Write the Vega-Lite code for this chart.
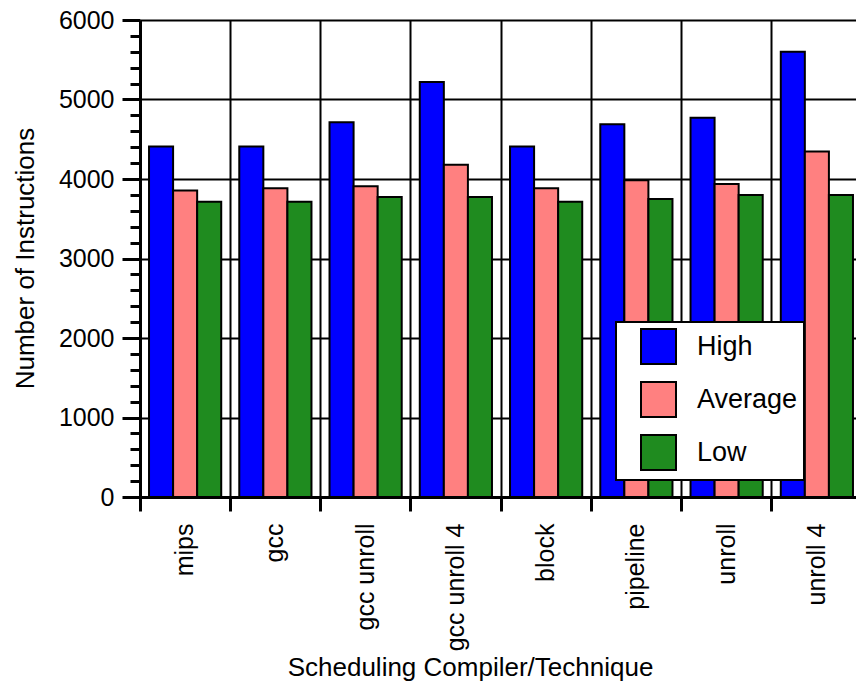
{
  "$schema": "https://vega.github.io/schema/vega-lite/v6.json",
  "autosize": {"type": "none"},
  "width": 722,
  "height": 477,
  "padding": {"left": 140, "top": 20, "right": -6, "bottom": 192},
  "background": "white",
  "config": {
    "view": {"stroke": null},
    "font": "Liberation Sans",
    "axis": {
      "domainColor": "black",
      "tickColor": "black",
      "gridColor": "black",
      "gridOpacity": 1,
      "labelColor": "black",
      "titleColor": "black",
      "labelFont": "Liberation Sans",
      "titleFont": "Liberation Sans",
      "titleFontWeight": "normal"
    }
  },
  "data": {
    "values": [
      {"technique": "mips", "level": "High", "value": 4410},
      {"technique": "mips", "level": "Average", "value": 3855},
      {"technique": "mips", "level": "Low", "value": 3715},
      {"technique": "gcc", "level": "High", "value": 4410},
      {"technique": "gcc", "level": "Average", "value": 3885},
      {"technique": "gcc", "level": "Low", "value": 3715},
      {"technique": "gcc unroll", "level": "High", "value": 4715},
      {"technique": "gcc unroll", "level": "Average", "value": 3910},
      {"technique": "gcc unroll", "level": "Low", "value": 3775},
      {"technique": "gcc unroll 4", "level": "High", "value": 5220},
      {"technique": "gcc unroll 4", "level": "Average", "value": 4180},
      {"technique": "gcc unroll 4", "level": "Low", "value": 3775},
      {"technique": "block", "level": "High", "value": 4410},
      {"technique": "block", "level": "Average", "value": 3885},
      {"technique": "block", "level": "Low", "value": 3715},
      {"technique": "pipeline", "level": "High", "value": 4690},
      {"technique": "pipeline", "level": "Average", "value": 3985},
      {"technique": "pipeline", "level": "Low", "value": 3748},
      {"technique": "unroll", "level": "High", "value": 4770},
      {"technique": "unroll", "level": "Average", "value": 3937},
      {"technique": "unroll", "level": "Low", "value": 3800},
      {"technique": "unroll 4", "level": "High", "value": 5600},
      {"technique": "unroll 4", "level": "Average", "value": 4345},
      {"technique": "unroll 4", "level": "Low", "value": 3800}
    ]
  },
  "layer": [
    {
      "mark": {"type": "bar", "stroke": "black", "strokeWidth": 2, "opacity": 1},
      "encoding": {
        "x": {
          "field": "technique",
          "type": "nominal",
          "sort": ["mips", "gcc", "gcc unroll", "gcc unroll 4", "block", "pipeline", "unroll", "unroll 4"],
          "scale": {"paddingInner": 0, "paddingOuter": 0},
          "axis": {
            "orient": "bottom",
            "bandPosition": 0,
            "grid": true,
            "gridWidth": 2,
            "tickSize": 14,
            "tickWidth": 3,
            "domainWidth": 3,
            "labelAngle": 270,
            "labelAlign": "right",
            "labelBaseline": "middle",
            "labelFontSize": 25,
            "labelPadding": 12,
            "labelLimit": 0,
            "title": "Scheduling Compiler/Technique",
            "titleFontSize": 26,
            "titleX": 330,
            "titleY": 178,
            "titleAlign": "center",
            "titleBaseline": "alphabetic"
          }
        },
        "xOffset": {
          "field": "level",
          "type": "nominal",
          "sort": ["High", "Average", "Low"],
          "scale": {"paddingInner": 0, "paddingOuter": 0.375}
        },
        "y": {
          "field": "value",
          "type": "quantitative",
          "scale": {"domain": [0, 6000], "nice": false},
          "axis": {
            "orient": "left",
            "values": [0, 1000, 2000, 3000, 4000, 5000, 6000],
            "format": "d",
            "grid": true,
            "gridWidth": 2,
            "tickSize": 18,
            "tickWidth": 3,
            "domainWidth": 3,
            "labelFontSize": 25,
            "labelPadding": 8,
            "title": "Number of Instructions",
            "titleFontSize": 26,
            "titleX": -107,
            "titleY": 238,
            "titleAngle": 270,
            "titleAlign": "center",
            "titleBaseline": "alphabetic"
          }
        },
        "color": {
          "field": "level",
          "type": "nominal",
          "scale": {"domain": ["High", "Average", "Low"], "range": ["#0000FF", "#FF8080", "#1F8B1F"]},
          "legend": {
            "orient": "none",
            "legendX": 476,
            "legendY": 302,
            "title": null,
            "fillColor": "white",
            "strokeColor": "black",
            "padding": 6,
            "symbolType": "square",
            "symbolSize": 1225,
            "symbolStrokeColor": "black",
            "symbolStrokeWidth": 2,
            "symbolOpacity": 1,
            "symbolOffset": 18,
            "labelFontSize": 27,
            "labelOffset": 20,
            "labelColor": "black",
            "rowPadding": 10,
            "encode": {"legend": {"update": {"strokeWidth": {"value": 2}}}}
          }
        }
      }
    },
    {
      "mark": {"type": "point", "opacity": 0},
      "encoding": {
        "x": {
          "field": "technique",
          "type": "nominal",
          "sort": ["mips", "gcc", "gcc unroll", "gcc unroll 4", "block", "pipeline", "unroll", "unroll 4"]
        },
        "y": {
          "field": "value",
          "type": "quantitative",
          "axis": {
            "orient": "left",
            "values": [200, 400, 600, 800, 1200, 1400, 1600, 1800, 2200, 2400, 2600, 2800, 3200, 3400, 3600, 3800, 4200, 4400, 4600, 4800, 5200, 5400, 5600, 5800],
            "labels": false,
            "domain": false,
            "grid": false,
            "tickSize": 10,
            "tickWidth": 3,
            "title": null
          }
        }
      }
    }
  ],
  "resolve": {"axis": {"y": "independent"}}
}
